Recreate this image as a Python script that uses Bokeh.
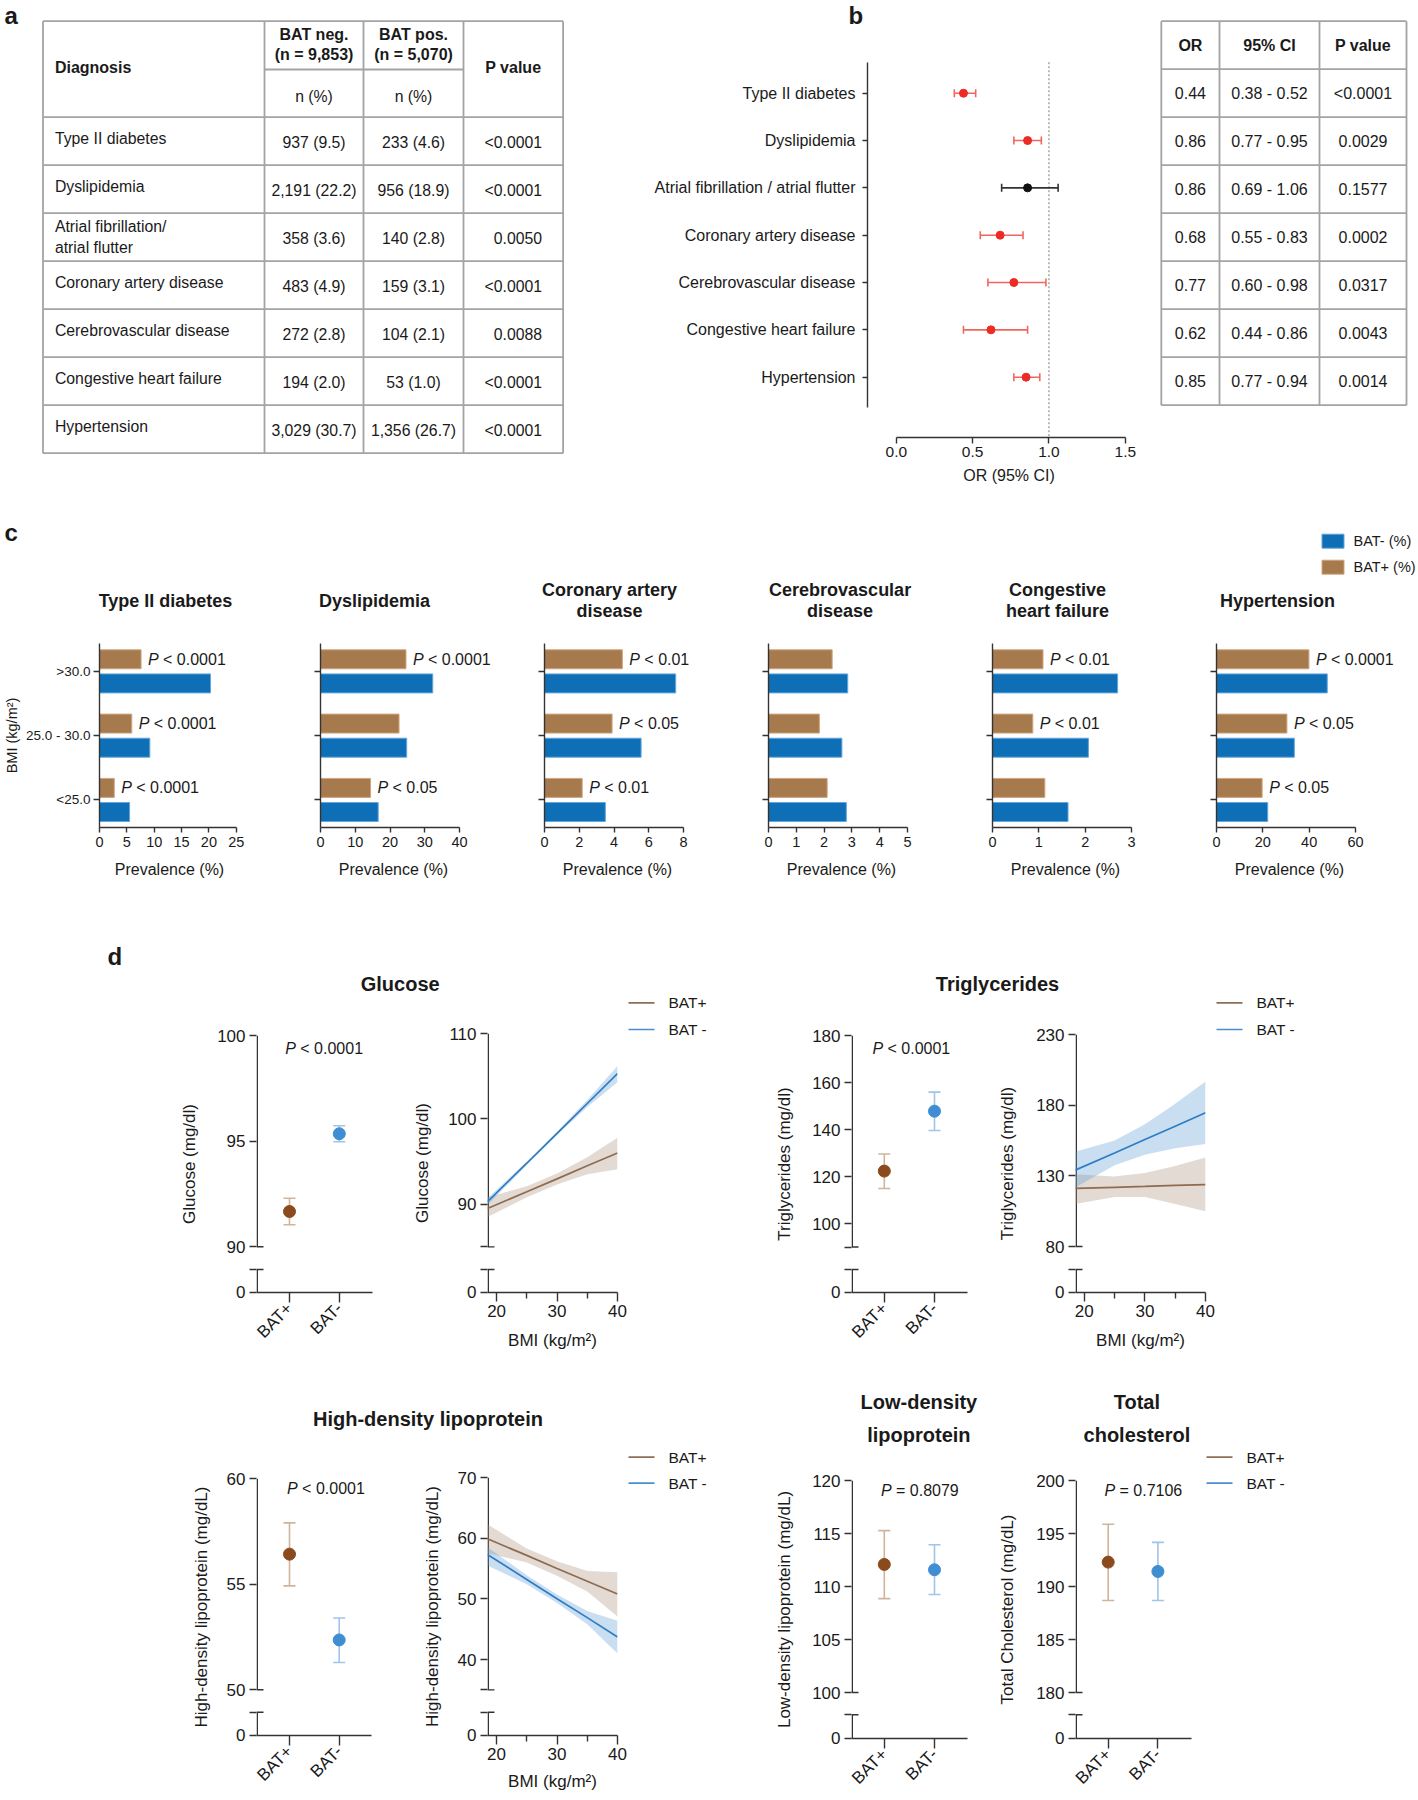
import math
from bokeh.plotting import figure
from bokeh.models import Range1d, LinearAxis, FixedTicker, PrintfTickFormatter
from bokeh.layouts import row, column
from bokeh.embed import file_html
from bokeh.resources import INLINE
from bokeh.core.properties import value

# ======================= DATA =======================
# (a) prevalence table
diagnoses = ["Type II diabetes", "Dyslipidemia", "Atrial fibrillation/\natrial flutter",
             "Coronary artery disease", "Cerebrovascular disease", "Congestive heart failure", "Hypertension"]
n_bat_neg, n_bat_pos = 9853, 5070
bat_neg_n = [937, 2191, 358, 483, 272, 194, 3029]
bat_neg_pct = [9.5, 22.2, 3.6, 4.9, 2.8, 2.0, 30.7]
bat_pos_n = [233, 956, 140, 159, 104, 53, 1356]
bat_pos_pct = [4.6, 18.9, 2.8, 3.1, 2.1, 1.0, 26.7]
p_values_a = ["<0.0001", "<0.0001", "0.0050", "<0.0001", "0.0088", "<0.0001", "<0.0001"]

# (b) odds ratios
forest_labels = ["Type II diabetes", "Dyslipidemia", "Atrial fibrillation / atrial flutter",
                 "Coronary artery disease", "Cerebrovascular disease", "Congestive heart failure", "Hypertension"]
odds_ratio = [0.44, 0.86, 0.86, 0.68, 0.77, 0.62, 0.85]
ci_low = [0.38, 0.77, 0.69, 0.55, 0.60, 0.44, 0.77]
ci_high = [0.52, 0.95, 1.06, 0.83, 0.98, 0.86, 0.94]
p_values_b = ["<0.0001", "0.0029", "0.1577", "0.0002", "0.0317", "0.0043", "0.0014"]
or_ticks = [0.0, 0.5, 1.0, 1.5]

# (c) prevalence by BMI group (order: <25.0, 25.0-30.0, >30.0)
bmi_groups = ["<25.0", "25.0 - 30.0", ">30.0"]
c_titles = ["Type II diabetes", "Dyslipidemia", "Coronary artery\ndisease", "Cerebrovascular\ndisease",
            "Congestive\nheart failure", "Hypertension"]
c_xmax = [25, 40, 8, 5, 3, 60]
c_xstep = [5, 10, 2, 1, 1, 20]
c_bat_neg = [[5.5, 9.2, 20.3], [16.6, 24.8, 32.3], [3.5, 5.56, 7.55],
             [2.8, 2.64, 2.85], [1.63, 2.07, 2.70], [22.1, 33.6, 47.8]]
c_bat_pos = [[2.7, 5.9, 7.6], [14.4, 22.6, 24.6], [2.17, 3.89, 4.48],
             [2.11, 1.83, 2.29], [1.13, 0.87, 1.09], [19.7, 30.4, 39.9]]
c_pvals = [["< 0.0001", "< 0.0001", "< 0.0001"], ["< 0.05", "", "< 0.0001"], ["< 0.01", "< 0.05", "< 0.01"],
           ["", "", ""], ["", "< 0.01", "< 0.01"], ["< 0.05", "< 0.05", "< 0.0001"]]
c_legend = ["BAT- (%)", "BAT+ (%)"]

# (d) means with 95% CI
groups = ["BAT+", "BAT-"]
glu_mean, glu_lo, glu_hi = [91.67, 95.35], [91.04, 94.97], [92.30, 95.73]
tg_mean, tg_lo, tg_hi = [122.3, 147.8], [114.9, 139.6], [129.6, 155.9]
hdl_mean, hdl_lo, hdl_hi = [56.42, 52.36], [54.92, 51.29], [57.90, 53.40]
ldl_mean, ldl_lo, ldl_hi = [112.08, 111.58], [108.86, 109.24], [115.27, 113.94]
tc_mean, tc_lo, tc_hi = [192.3, 191.42], [188.68, 188.68], [195.87, 194.16]
p_glu, p_tg, p_hdl, p_ldl, p_tc = "< 0.0001", "< 0.0001", "< 0.0001", "= 0.8079", "= 0.7106"

# (d) regression vs BMI
bmi_grid = [18.5, 25, 30, 35, 40]
glu_pos_fit, glu_pos_lo, glu_pos_hi = [89.5, 91.45, 92.97, 94.5, 96.0], [88.5, 90.8, 92.3, 93.5, 94.1], [90.8, 92.1, 93.6, 95.5, 97.8]
glu_neg_fit, glu_neg_lo, glu_neg_hi = [90.3, 94.8, 98.3, 101.8, 105.3], [89.9, 94.6, 98.1, 101.4, 104.3], [90.7, 95.0, 98.5, 102.2, 106.2]
tg_pos_fit, tg_pos_lo, tg_pos_hi = [121.1, 121.9, 122.5, 123.2, 123.8], [110.0, 115.0, 115.0, 110.0, 105.0], [131.2, 129.5, 132.0, 137.0, 143.0]
tg_neg_fit, tg_neg_lo, tg_neg_hi = [134.0, 146.2, 155.7, 165.1, 174.6], [121.8, 137.5, 145.0, 149.5, 152.5], [147.0, 155.0, 166.5, 181.0, 196.7]
hdl_pos_fit, hdl_pos_lo, hdl_pos_hi = [59.9, 57.16, 55.0, 52.9, 50.8], [57.5, 56.0, 53.8, 51.2, 47.1], [62.3, 58.3, 56.2, 54.6, 54.4]
hdl_neg_fit, hdl_neg_lo, hdl_neg_hi = [57.3, 53.2, 50.0, 46.9, 43.7], [55.5, 52.4, 49.3, 45.8, 41.0], [58.5, 53.9, 50.7, 48.0, 46.4]
reg_legend = ["BAT+", "BAT -"]

# ======================= STYLE =======================
FONT = "Liberation Sans"
INK = "#1a1a1a"
AXC = "#333333"
GRID = "#a3a3a3"
RED, RED_ERR = "#ee2a24", "#f2675d"
BLUE_BAR, BLUE_EDGE = "#0f6fb6", "#63a6dc"
BROWN_BAR, BROWN_EDGE = "#a77a4e", "#cfa57f"
PT_POS, PT_NEG = "#8b4a1d", "#3f8dd2"
ERR_POS, ERR_NEG = "#d0b49c", "#9fc5e8"
BAND_POS, BAND_NEG = "#a88f7a", "#5f9bd6"
LINE_POS, LINE_NEG = "#8f6b4f", "#2e7cc4"
LEG_POS, LEG_NEG = "#8d6e57", "#4a90d0"


def conv(v1, a1, v2, a2):
    s = (v2 - v1) / (a2 - a1)
    return lambda a: v1 + (a - a1) * s


def make_fig(x0, y0, x1, y1, fl=None, ft=None, fr=None, fb=None):
    fl = x0 if fl is None else fl
    ft = y0 if ft is None else ft
    fr = x1 if fr is None else fr
    fb = y1 if fb is None else fb
    p = figure(width=int(x1 - x0), height=int(y1 - y0),
               min_border_left=int(fl - x0), min_border_right=int(x1 - fr),
               min_border_top=int(ft - y0), min_border_bottom=int(y1 - fb),
               output_backend="svg", toolbar_location=None, tools="",
               x_axis_type=None, y_axis_type=None)
    p.outline_line_color = None
    p.border_fill_color = "white"
    p.background_fill_color = "white"
    p.x_range = Range1d(fl, fr)
    p.y_range = Range1d(fb, ft)
    p.extra_x_ranges = {"px": Range1d(fl, fr)}
    p.extra_y_ranges = {"px": Range1d(fb, ft)}
    return p, (fl, ft, fr, fb)


def solo(p):
    # wrap a plot so that the row/column it sits in does not align its frame with its siblings
    return column(p)


def txt(p, xs, ys, texts, size, align="left", base="middle", style="normal", color=INK,
        angle=0.0, lh=1.2, xoff=0, px=True):
    kw = {"x_range_name": "px", "y_range_name": "px"} if px else {}
    p.text(x=list(xs), y=list(ys), text=list(texts), text_font=value(FONT), text_font_size=value(size),
           text_font_style=value(style), text_align=value(align), text_baseline=value(base),
           text_color=color, angle=angle, text_line_height=lh, x_offset=xoff, **kw)


def ptext(p, xs, ys, rest, size, xoff, gap, px=True):
    txt(p, xs, ys, ["P"] * len(xs), size, style="italic", xoff=xoff, px=px)
    txt(p, xs, ys, rest, size, xoff=xoff + gap, px=px)


def style_axis(ax, size="16px", tick_out=6, standoff=4, label_size="16px", label_standoff=6):
    ax.axis_line_color = AXC
    ax.axis_line_width = 1.4
    ax.major_tick_line_color = AXC
    ax.major_tick_line_width = 1.4
    ax.major_tick_in = 0
    ax.major_tick_out = tick_out
    ax.minor_tick_line_color = None
    ax.major_label_text_font = FONT
    ax.major_label_text_font_size = size
    ax.major_label_text_color = INK
    ax.major_label_standoff = standoff
    ax.axis_label_text_font = FONT
    ax.axis_label_text_font_size = label_size
    ax.axis_label_text_font_style = "normal"
    ax.axis_label_text_color = INK
    ax.axis_label_standoff = label_standoff


# ======================= PANEL a =======================
fA, _ = make_fig(0, 0, 590, 500)
TA_X = [42.5, 264, 363, 463, 562.6]
TA_TOP, TA_MID, TA_HEAD, TA_ROW = 20.7, 69.0, 116.7, 48.0
row_tops = [TA_HEAD + TA_ROW * k for k in range(len(diagnoses) + 1)]
t_bottom = row_tops[-1]
hx0 = [TA_X[0], TA_X[1]] + [TA_X[0]] * len(row_tops)
hx1 = [TA_X[4], TA_X[3]] + [TA_X[4]] * len(row_tops)
hy = [TA_TOP, TA_MID] + row_tops
fA.segment(x0=hx0, x1=hx1, y0=hy, y1=hy, x_range_name="px", y_range_name="px", line_color=GRID, line_width=1.8)
fA.segment(x0=TA_X, x1=TA_X, y0=[TA_TOP] * 5, y1=[t_bottom] * 5, x_range_name="px", y_range_name="px",
           line_color=GRID, line_width=1.8)
txt(fA, [4], [15], ["a"], "24px", style="bold")
txt(fA, [54.4], [66.7], ["Diagnosis"], "16px", style="bold")
txt(fA, [313.5, 413], [43.7, 43.7], [f"BAT neg.\n(n = {n_bat_neg:,})", f"BAT pos.\n(n = {n_bat_pos:,})"],
    "16px", align="center", style="bold", lh=1.2)
txt(fA, [512.8], [66.7], ["P value"], "16px", align="center", style="bold")
txt(fA, [313.5, 413], [95.7, 95.7], ["n (%)", "n (%)"], "15.8px", align="center")
txt(fA, [54.4] * len(diagnoses), [t + (23.7 if "\n" in d else 21) for t, d in zip(row_tops, diagnoses)],
    diagnoses, "15.8px", lh=1.25)
txt(fA, [313.5] * 7, [t + 25 for t in row_tops[:7]], [f"{n:,} ({v:.1f})" for n, v in zip(bat_neg_n, bat_neg_pct)],
    "15.8px", align="center")
txt(fA, [413] * 7, [t + 25 for t in row_tops[:7]], [f"{n:,} ({v:.1f})" for n, v in zip(bat_pos_n, bat_pos_pct)],
    "15.8px", align="center")
txt(fA, [541.6] * 7, [t + 25 for t in row_tops[:7]], p_values_a, "15.8px", align="right")

# ======================= PANEL b (forest) =======================
sB, _ = make_fig(590, 0, 1150, 36)
txt(sB, [848], [15], ["b"], "24px", style="bold")

fB, (FL, FT, FR, FB) = make_fig(590, 36, 1150, 500, 867, 40, 1150, 437)
bx = conv(0.0, 895.8, 1.5, 1124.8)
by = conv(0.0, 92.7, -6.0, 92.7 + 6 * 47.33)
fB.x_range = Range1d(bx(FL), bx(FR))
fB.y_range = Range1d(by(FB), by(FT))
ypos = [-i for i in range(len(forest_labels))]
pt_cols = [RED if h < 1 else "#111111" for h in ci_high]
er_cols = [RED_ERR if h < 1 else "#333333" for h in ci_high]
fB.segment(x0=[1.0], x1=[1.0], y0=[61.7], y1=[437], y_range_name="px", line_color="#7a7a7a",
           line_width=1, line_dash="2 2")
fB.segment(x0=ci_low, x1=ci_high, y0=ypos, y1=ypos, line_color=er_cols, line_width=1.6)
fB.scatter(x=ci_low + ci_high, y=ypos + ypos, marker="dash", angle=math.pi / 2, size=8,
           line_color=er_cols + er_cols, line_width=1.6)
fB.scatter(x=odds_ratio, y=ypos, size=8, fill_color=pt_cols, line_color=pt_cols)
yax = LinearAxis(ticker=FixedTicker(ticks=ypos), major_label_overrides=dict(zip(ypos, forest_labels)),
                 bounds=(by(406.7), by(61.7)))
style_axis(yax, size="16px", tick_out=5, standoff=7)
fB.add_layout(yax, "left")
xax = LinearAxis(ticker=FixedTicker(ticks=or_ticks), formatter=PrintfTickFormatter(format="%.1f"),
                 bounds=(or_ticks[0], or_ticks[-1]), axis_label="OR (95% CI)")
style_axis(xax, size="15.5px", tick_out=6, standoff=3, label_size="16px", label_standoff=7)
fB.add_layout(xax, "below")

# table b
fC, _ = make_fig(1150, 0, 1418, 500)
TB_X = [1160.8, 1219, 1319, 1406]
tb_rows = [20.7 + 48 * k for k in range(len(odds_ratio) + 2)]
fC.segment(x0=[TB_X[0]] * len(tb_rows), x1=[TB_X[-1]] * len(tb_rows), y0=tb_rows, y1=tb_rows,
           x_range_name="px", y_range_name="px", line_color=GRID, line_width=1.8)
fC.segment(x0=TB_X, x1=TB_X, y0=[tb_rows[0]] * 4, y1=[tb_rows[-1]] * 4, x_range_name="px", y_range_name="px",
           line_color=GRID, line_width=1.8)
tb_cx = [(TB_X[i] + TB_X[i + 1]) / 2 for i in range(3)]
txt(fC, tb_cx, [44.7] * 3, ["OR", "95% CI", "P value"], "16px", align="center", style="bold")
ry = [92.7 + 48 * k for k in range(len(odds_ratio))]
txt(fC, [tb_cx[0]] * 7, ry, [f"{v:.2f}" for v in odds_ratio], "16px", align="center")
txt(fC, [tb_cx[1]] * 7, ry, [f"{a:.2f} - {b:.2f}" for a, b in zip(ci_low, ci_high)], "16px", align="center")
txt(fC, [tb_cx[2]] * 7, ry, p_values_b, "16px", align="center")

# ======================= PANEL c =======================
c_fig_x = [0, 280, 504, 728, 952, 1176, 1418]
c_axis_x = [96, 320, 544, 768, 992, 1216]
c_title_x = [165, 374, 609, 839.6, 1057, 1277]

topC, _ = make_fig(0, 500, 1418, 628)
txt(topC, [4], [532], ["c"], "24px", style="bold")
txt(topC, c_title_x, [600.3] * 6, c_titles, "18px", align="center", style="bold", lh=1.07)
topC.rect(x=[1332.5, 1332.5], y=[540.7, 566.7], width=22, height=14, x_range_name="px", y_range_name="px",
          fill_color=[BLUE_BAR, BROWN_BAR], line_color=[BLUE_EDGE, BROWN_EDGE])
txt(topC, [1353, 1353], [540.7, 566.7], c_legend, "14.5px")

botC, _ = make_fig(0, 860, 1418, 905)
txt(botC, [a + 73 for a in c_axis_x], [869] * 6, ["Prevalence (%)"] * 6, "16px", align="center")

c_figs = []
gy = list(range(len(bmi_groups)))
for i in range(6):
    x0, x1 = c_fig_x[i], c_fig_x[i + 1]
    p, (FL, FT, FR, FB) = make_fig(x0, 628, x1, 860, c_axis_x[i], 643, x1, 827)
    cx = conv(0, FL, c_xmax[i], FL + 139)
    cy = conv(2, 670.7, 0, 799.3)
    p.x_range = Range1d(cx(FL), cx(FR))
    p.y_range = Range1d(cy(FB), cy(FT))
    p.hbar(y=[g + 0.185 for g in gy], left=0, right=c_bat_pos[i], height=0.295,
           fill_color=BROWN_BAR, line_color=BROWN_EDGE, line_width=1)
    p.hbar(y=[g - 0.19 for g in gy], left=0, right=c_bat_neg[i], height=0.295,
           fill_color=BLUE_BAR, line_color=BLUE_EDGE, line_width=1)
    sel = [j for j in gy if c_pvals[i][j]]
    if sel:
        ptext(p, [c_bat_pos[i][j] for j in sel], [j + 0.185 for j in sel], [c_pvals[i][j] for j in sel],
              "16px", xoff=7, gap=15, px=False)
    xa = LinearAxis(ticker=FixedTicker(ticks=list(range(0, c_xmax[i] + 1, c_xstep[i]))),
                    bounds=(0, c_xmax[i]))
    style_axis(xa, size="14.5px", tick_out=5, standoff=4)
    p.add_layout(xa, "below")
    ov = dict(zip(gy, bmi_groups)) if i == 0 else {g: "" for g in gy}
    ya = LinearAxis(ticker=FixedTicker(ticks=gy), major_label_overrides=ov,
                    axis_label="BMI (kg/m²)" if i == 0 else None)
    style_axis(ya, size="13.5px", tick_out=6, standoff=3, label_size="14.5px", label_standoff=3)
    p.add_layout(ya, "left")
    c_figs.append(p)


# ======================= PANEL d =======================
def d_chart(geom, xmap, ymap, top_val, cap_val, cap2_px, tick_vals, ylabel, ystand):
    x0, y0, x1, y1, fl, ft, fr, fb = geom
    p, (FL, FT, FR, FB) = make_fig(x0, y0, x1, y1, fl, ft, fr, fb)
    fx = conv(*xmap)
    fy = conv(top_val, FT, *ymap)
    p.x_range = Range1d(fx(FL), fx(FR))
    p.y_range = Range1d(fy(FB), fy(FT))
    v0 = fy(FB) + 1e-7 * (top_val - fy(FB))
    vc = fy(cap2_px)
    ticks = [v0, vc]
    ov = {v0: "0", vc: ""}
    if cap_val not in tick_vals:
        ticks.append(cap_val)
        ov[cap_val] = ""
    ticks += tick_vals
    for t in tick_vals:
        ov[t] = f"{t:g}"
    ya = LinearAxis(ticker=FixedTicker(ticks=ticks), major_label_overrides=ov, axis_label=ylabel)
    style_axis(ya, size="17px", tick_out=7, standoff=4, label_size="17px", label_standoff=ystand)
    ya.axis_line_color = None
    p.add_layout(ya, "left")
    axx = FL + 0.75
    p.segment(x0=[axx, axx], x1=[axx, axx], y0=[top_val, vc], y1=[cap_val, fy(FB)], x_range_name="px",
              line_color=AXC, line_width=1.5)
    p.segment(x0=[FL, FL], x1=[FL + 7, FL + 7], y0=[cap_val, vc], y1=[cap_val, vc], x_range_name="px",
              line_color=AXC, line_width=1.4)
    return p, fx, fy


def d_scatter(geom, xmap, ymap, top_val, cap_val, cap2_px, tick_vals, ylabel, ystand,
              means, lows, highs, pv, p_px):
    p, fx, fy = d_chart(geom, xmap, ymap, top_val, cap_val, cap2_px, tick_vals, ylabel, ystand)
    xs = [1, 2]
    p.segment(x0=xs, x1=xs, y0=lows, y1=highs, line_color=[ERR_POS, ERR_NEG], line_width=1.6)
    p.scatter(x=xs + xs, y=lows + highs, marker="dash", size=12, line_color=[ERR_POS, ERR_NEG] * 2,
              line_width=1.6)
    p.scatter(x=xs, y=means, size=12, fill_color=[PT_POS, PT_NEG], line_color=[PT_POS, PT_NEG])
    ptext(p, [p_px[0]], [p_px[1]], [pv], "16px", xoff=0, gap=15)
    xa = LinearAxis(ticker=FixedTicker(ticks=xs), major_label_overrides=dict(zip(xs, groups)))
    style_axis(xa, size="17px", tick_out=10, standoff=3)
    xa.major_label_orientation = math.pi / 4
    p.add_layout(xa, "below")
    return p


def d_reg(geom, xmap, ymap, top_val, cap_val, cap2_px, tick_vals, ylabel, ystand,
          fpos, lpos, hpos, fneg, lneg, hneg, xlab_standoff):
    p, fx, fy = d_chart(geom, xmap, ymap, top_val, cap_val, cap2_px, tick_vals, ylabel, ystand)
    p.varea(x=bmi_grid, y1=lpos, y2=hpos, fill_color=BAND_POS, fill_alpha=0.33)
    p.varea(x=bmi_grid, y1=lneg, y2=hneg, fill_color=BAND_NEG, fill_alpha=0.33)
    p.line(bmi_grid, fpos, line_color=LINE_POS, line_width=1.7)
    p.line(bmi_grid, fneg, line_color=LINE_NEG, line_width=1.7)
    xa = LinearAxis(ticker=FixedTicker(ticks=[20, 30, 40], minor_ticks=[25, 35]), axis_label="BMI (kg/m²)")
    style_axis(xa, size="17px", tick_out=9, standoff=3, label_size="17px", label_standoff=xlab_standoff)
    xa.minor_tick_line_color = AXC
    xa.minor_tick_line_width = 1.4
    xa.minor_tick_in = 0
    xa.minor_tick_out = 6
    p.add_layout(xa, "below")
    return p


def legend_fig(x0, y0, x1, y1, lx, ly):
    p, _ = make_fig(x0, y0, x1, y1)
    p.segment(x0=[lx, lx], x1=[lx + 26, lx + 26], y0=ly, y1=ly, x_range_name="px", y_range_name="px",
              line_color=[LEG_POS, LEG_NEG], line_width=1.7)
    txt(p, [lx + 40, lx + 40], ly, reg_legend, "15.5px")
    return p


# ---- band 3: glucose & triglycerides
H3a, _ = make_fig(0, 905, 627, 996)
txt(H3a, [107], [956], ["d"], "24px", style="bold")
txt(H3a, [399.7], [983.3], ["Glucose"], "20px", align="center", style="bold")
H3b, _ = make_fig(740, 905, 1215, 996)
txt(H3b, [997], [983.3], ["Triglycerides"], "20px", align="center", style="bold")

gs = d_scatter((0, 996, 405, 1370, 256, 1035, 372, 1292), (1, 289, 2, 338.8), (90, 1246.3), 100, 90, 1269,
               [90, 95, 100], "Glucose (mg/dl)", 15, glu_mean, glu_lo, glu_hi, p_glu, (284.8, 1047.7))
gr = d_reg((405, 996, 627, 1370, 487, 1033, 617, 1292), (20, 496.1, 40, 617), (90, 1203.7), 110, 85, 1269,
           [90, 100, 110], "Glucose (mg/dl)", 13,
           glu_pos_fit, glu_pos_lo, glu_pos_hi, glu_neg_fit, glu_neg_lo, glu_neg_hi, 11)
L3a = legend_fig(627, 905, 740, 1370, 628, [1002.3, 1029])
ts = d_scatter((740, 996, 995, 1370, 851, 1035, 967, 1292), (1, 883.8, 2, 934), (100, 1223), 180, 90, 1269,
               [100, 120, 140, 160, 180], "Triglycerides (mg/dl)", 15, tg_mean, tg_lo, tg_hi, p_tg, (872, 1047.7))
tr = d_reg((995, 996, 1215, 1370, 1075, 1034, 1205, 1292), (20, 1083.8, 40, 1205), (80, 1246), 230, 80, 1269,
           [80, 130, 180, 230], "Triglycerides (mg/dl)", 16,
           tg_pos_fit, tg_pos_lo, tg_pos_hi, tg_neg_fit, tg_neg_lo, tg_neg_hi, 11)
L3b = legend_fig(1215, 905, 1418, 1370, 1216, [1002.3, 1029])

# ---- band 4: HDL, LDL, total cholesterol
H4a, _ = make_fig(0, 1370, 627, 1466)
txt(H4a, [427.5], [1418.3], ["High-density lipoprotein"], "20px", align="center", style="bold")
H4b, _ = make_fig(740, 1370, 1200, 1466)
txt(H4b, [918.4, 1136.4], [1418, 1418], ["Low-density\nlipoprotein", "Total\ncholesterol"],
    "20px", align="center", style="bold", lh=1.47)

hs = d_scatter((0, 1466, 405, 1800, 256, 1478, 371, 1735), (1, 289, 2, 338.7), (50, 1689.3), 60, 50, 1711.7,
               [50, 55, 60], "High-density lipoprotein (mg/dL)", 13, hdl_mean, hdl_lo, hdl_hi, p_hdl,
               (286.6, 1488))
hr = d_reg((405, 1466, 627, 1800, 487, 1477, 617, 1735), (20, 496, 40, 617), (40, 1659), 70, 35, 1711.7,
           [40, 50, 60, 70], "High-density lipoprotein (mg/dL)", 13,
           hdl_pos_fit, hdl_pos_lo, hdl_pos_hi, hdl_neg_fit, hdl_neg_lo, hdl_neg_hi, 9)
L4a = legend_fig(627, 1370, 740, 1800, 628, [1456.7, 1482.7])
ls = d_scatter((740, 1466, 995, 1800, 851, 1480, 967, 1738), (1, 883.8, 2, 934), (100, 1692), 120, 100, 1714.3,
               [100, 105, 110, 115, 120], "Low-density lipoprotein (mg/dL)", 15, ldl_mean, ldl_lo, ldl_hi, p_ldl,
               (880.5, 1490))
tcs = d_scatter((995, 1466, 1200, 1800, 1075, 1480, 1191, 1738), (1, 1107.7, 2, 1157.4), (180, 1692), 200, 180,
                1714.3, [180, 185, 190, 195, 200], "Total Cholesterol (mg/dL)", 16, tc_mean, tc_lo, tc_hi, p_tc,
                (1104, 1490))
L4b = legend_fig(1200, 1370, 1418, 1800, 1206, [1456.7, 1482.7])

layout = column(
    row(solo(fA), column(solo(sB), solo(fB)), solo(fC)),
    column(solo(topC), row(*[solo(f) for f in c_figs]), solo(botC)),
    row(column(solo(H3a), row(solo(gs), solo(gr))), solo(L3a),
        column(solo(H3b), row(solo(ts), solo(tr))), solo(L3b)),
    row(column(solo(H4a), row(solo(hs), solo(hr))), solo(L4a),
        column(solo(H4b), row(solo(ls), solo(tcs))), solo(L4b)),
)

html = file_html(layout, INLINE, title="BAT figure")
with open("out.html", "w") as f:
    f.write(html)
